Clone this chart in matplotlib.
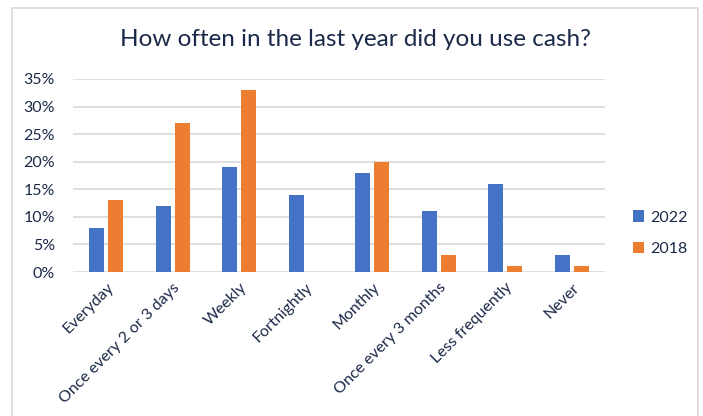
import numpy as np
import matplotlib.pyplot as plt
from matplotlib.patches import Rectangle

categories = ['Everyday', 'Once every 2 or 3 days', 'Weekly', 'Fortnightly',
              'Monthly', 'Once every 3 months', 'Less frequently', 'Never']
y2022 = [8, 12, 19, 14, 18, 11, 16, 3]
y2018 = [13, 27, 33, 0, 20, 3, 1, 1]

navy = '#1b2a48'
plt.rcParams['font.family'] = ['Lato', 'DejaVu Sans']

fig = plt.figure(figsize=(7.03, 4.16), dpi=100)
fig.patches.append(Rectangle((12 / 703, -0.1), 686 / 703, 1 - 8 / 416 + 0.1,
                             transform=fig.transFigure, fill=False,
                             edgecolor='#d9d9d9', linewidth=1.2))

ax = fig.add_axes([73 / 703, 1 - 272 / 416, 532 / 703, 193 / 416])
x = np.arange(len(categories))
w = 0.225
ax.bar(x - 0.143, y2022, w, color='#4472C4', label='2022', zorder=3)
ax.bar(x + 0.143, y2018, w, color='#ED7D31', label='2018', zorder=3)

ax.set_xlim(-0.5, len(categories) - 0.5)
ax.set_ylim(0, 35)
ax.set_yticks(range(0, 36, 5))
ax.set_yticklabels(['{}%'.format(v) for v in range(0, 36, 5)])
ax.grid(axis='y', color='#d9d9d9', linewidth=1.2, zorder=0)
for s in ax.spines.values():
    s.set_visible(False)
ax.tick_params(length=0, labelsize=11.5, colors=navy)
ax.tick_params(axis='y', pad=13)
ax.set_xticks(x)
ax.set_xticklabels(categories, rotation=45, ha='right', rotation_mode='anchor')
ax.tick_params(axis='x', pad=6)

fig.text(355 / 703, 1 - 40 / 416, 'How often in the last year did you use cash?',
         ha='center', va='center', fontsize=17.5, color=navy)

ax.legend(loc='center left', bbox_to_anchor=(1.025, 0.2), frameon=False,
          fontsize=11.5, labelcolor=navy, handlelength=0.7, handleheight=0.7,
          labelspacing=1.1, handletextpad=0.4)

fig.savefig('out.png', dpi=100)
